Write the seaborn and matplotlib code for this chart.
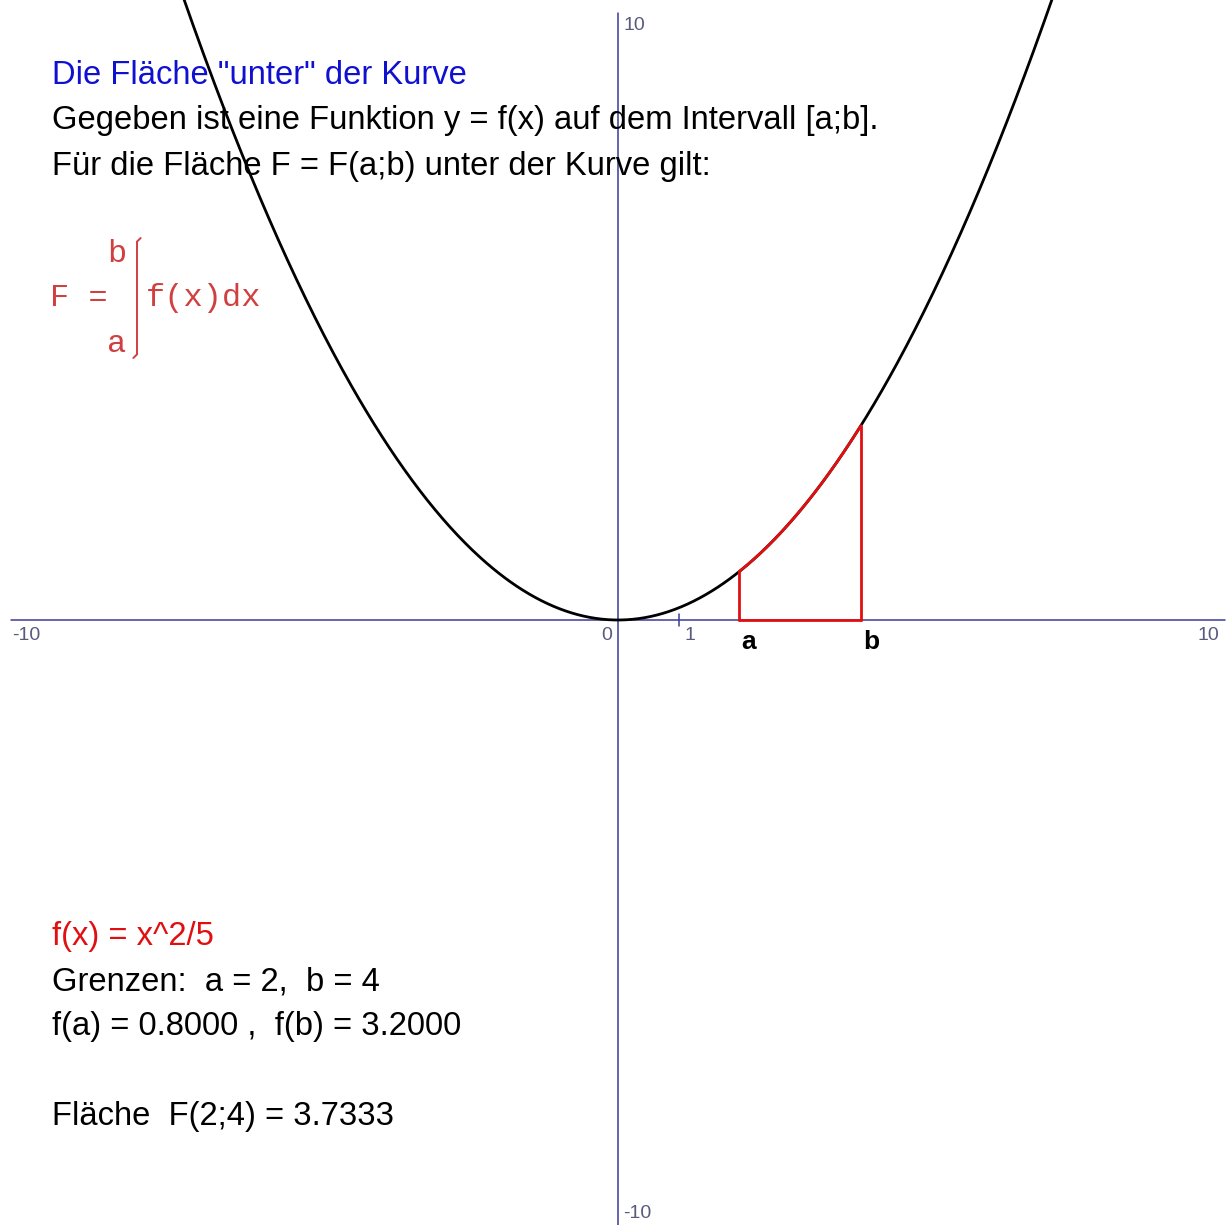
import numpy as np
import pandas as pd
import matplotlib
matplotlib.use("Agg")
import matplotlib.pyplot as plt
import seaborn as sns

# Function and interval
coef = 0.2            # f(x) = x^2 / 5
a_val, b_val = 2, 4
f_a, f_b = 0.8000, 3.2000
area = 3.7333

axis_min, axis_max = -10, 10
tick_labels_x = ["-10", "0", "1", "10"]
tick_labels_y = ["10", "-10"]

title_text = 'Die Fläche "unter" der Kurve'
intro_lines = ["Gegeben ist eine Funktion y = f(x) auf dem Intervall [a;b].",
               "Für die Fläche F = F(a;b) unter der Kurve gilt:"]
func_text = "f(x) = x^2/5"
info_lines = ["Grenzen:  a = 2,  b = 4",
              "f(a) = 0.8000 ,  f(b) = 3.2000",
              "",
              "Fläche  F(2;4) = 3.7333"]

sns.set_theme(style="white")
plt.rcParams['font.family'] = ['Liberation Sans', 'DejaVu Sans']

W, H = 1227, 1225
fig = plt.figure(figsize=(W / 100, H / 100), dpi=100)
ax = fig.add_axes([0, 0, 1, 1])
ax.set_facecolor("white")
for s in ax.spines.values():
    s.set_visible(False)
ax.set_xticks([])
ax.set_yticks([])

scale = 60.7  # pixels per unit
x0_px, y0_px = 618, 620
ax.set_xlim(-x0_px / scale, (W - x0_px) / scale)
ax.set_ylim(-(H - y0_px) / scale, y0_px / scale)

axis_col = "#3a3a9a"
ax.plot([axis_min, axis_max], [0, 0], color=axis_col, lw=1.1, zorder=1)
ax.plot([0, 0], [axis_min, axis_max], color=axis_col, lw=1.1, zorder=1)
ax.plot([1, 1], [-0.1, 0.1], color=axis_col, lw=1.1, zorder=1)


def px(xp, yp):
    return (xp - x0_px) / scale, (y0_px - yp) / scale


tick_col = "#5a5a80"
tfs = 14
for label, (xp, yp, ha) in zip(tick_labels_x, [(12, 636, "left"), (612, 636, "right"),
                                              (684, 636, "left"), (1219, 636, "right")]):
    tx, ty = px(xp, yp)
    ax.text(tx, ty, label, color=tick_col, fontsize=tfs, ha=ha, va="center")
for label, (xp, yp) in zip(tick_labels_y, [(623, 26), (623, 1214)]):
    tx, ty = px(xp, yp)
    ax.text(tx, ty, label, color=tick_col, fontsize=tfs, ha="left", va="center")

# Parabola
xs = np.linspace(-7.5, 7.5, 600)
curve = pd.DataFrame({"x": xs, "y": coef * xs ** 2})
sns.lineplot(data=curve, x="x", y="y", color="black", lw=2.0, ax=ax, zorder=3)

# Highlighted region between a and b
red = "#e01010"
xr = np.linspace(a_val, b_val, 200)
seg = pd.DataFrame({"x": xr, "y": coef * xr ** 2})
sns.lineplot(data=seg, x="x", y="y", color=red, lw=2.0, ax=ax, zorder=4)
ax.plot([a_val, a_val], [0, f_a], color=red, lw=2.0, zorder=4)
ax.plot([b_val, b_val], [0, f_b], color=red, lw=2.0, zorder=4)
ax.plot([a_val, b_val], [0, 0], color=red, lw=2.0, zorder=4)

tx, ty = px(748, 642)
ax.text(a_val + 0.15, ty, "a", fontsize=19, fontweight="bold", color="black", ha="center", va="center")
ax.text(b_val + 0.17, ty, "b", fontsize=19, fontweight="bold", color="black", ha="center", va="center")

ax.set_xlabel("")
ax.set_ylabel("")

fs = 23.6
dy = 4  # baseline nudge for the text block
tx, ty = px(52, 72 + dy)
ax.text(tx, ty, title_text, color="#1010d0", fontsize=fs, ha="left", va="center", zorder=5)
for i, line in enumerate(intro_lines):
    tx, ty = px(52, 117 + 45 * i + dy)
    ax.text(tx, ty, line, color="black", fontsize=fs, ha="left", va="center", zorder=5)

# Integral formula
fcol = "#d04040"
mono = ['Liberation Mono', 'DejaVu Sans Mono']
ffs = 23
tx, ty = px(107, 254)
ax.text(tx, ty, "b", color=fcol, fontsize=ffs, family=mono, ha="left", va="center")
tx, ty = px(107, 344)
ax.text(tx, ty, "a", color=fcol, fontsize=ffs, family=mono, ha="left", va="center")
tx, ty = px(50, 298)
ax.text(tx, ty, "F =", color=fcol, fontsize=ffs, family=mono, ha="left", va="center")
tx, ty = px(146, 298)
ax.text(tx, ty, "f(x)dx", color=fcol, fontsize=ffs, family=mono, ha="left", va="center")
# integral sign built from strokes
ix = (137 - x0_px) / scale
top_y, bot_y = (y0_px - 238) / scale, (y0_px - 358) / scale
ax.plot([ix, ix], [bot_y + 0.06, top_y - 0.06], color=fcol, lw=1.4)
ax.plot([ix, ix + 0.06], [top_y - 0.06, top_y], color=fcol, lw=1.4)
ax.plot([ix, ix - 0.06], [bot_y + 0.06, bot_y], color=fcol, lw=1.4)

tx, ty = px(52, 933 + dy)
ax.text(tx, ty, func_text, color="#e01010", fontsize=fs, ha="left", va="center", zorder=5)
for i, line in enumerate(info_lines):
    if not line:
        continue
    tx, ty = px(52, 978 + 45 * i + dy)
    ax.text(tx, ty, line, color="black", fontsize=fs, ha="left", va="center", zorder=5)

fig.savefig("out.png", dpi=100, facecolor="white")
